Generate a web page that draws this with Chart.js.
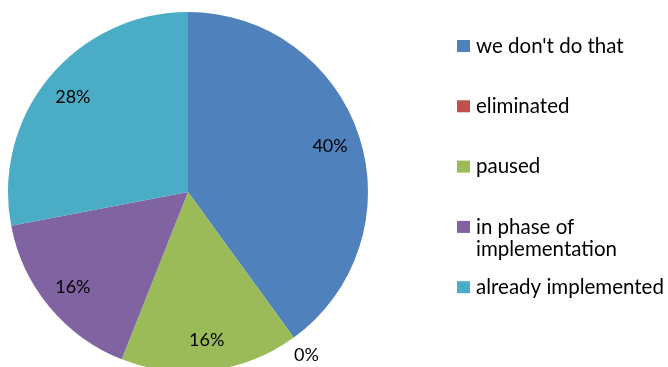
<!DOCTYPE html>
<html>
<head>
<meta charset="utf-8">
<script src="https://cdn.jsdelivr.net/npm/chart.js@4.4.0/dist/chart.umd.min.js"></script>
<style>
  html, body { margin: 0; padding: 0; background: #fff; overflow: hidden; }
  #wrap { width: 668px; height: 384px; position: relative; }
</style>
</head>
<body>
<div id="wrap"><canvas id="pie"></canvas></div>
<script>
// data
const categories = ["we don't do that", 'eliminated', 'paused', 'in phase of implementation', 'already implemented'];
const shares = [40, 0, 16, 16, 28];
const sliceColors = ['#4F81BD', '#C0504D', '#9BBB59', '#8064A2', '#4BACC6'];

const FONT = 'Lato, "Open Sans", sans-serif';

// percent labels on the slices (0% goes outside)
const sliceLabels = {
  id: 'sliceLabels',
  afterDatasetsDraw(chart) {
    const ctx = chart.ctx;
    const meta = chart.getDatasetMeta(0);
    ctx.save();
    ctx.font = '18px ' + FONT;
    ctx.fillStyle = '#000';
    ctx.textAlign = 'center';
    ctx.textBaseline = 'middle';
    meta.data.forEach((arc, i) => {
      const mid = (arc.startAngle + arc.endAngle) / 2;
      const r = shares[i] === 0 ? arc.outerRadius * 1.12 : arc.outerRadius * 0.83;
      ctx.fillText(shares[i] + '%', arc.x + Math.cos(mid) * r, arc.y + Math.sin(mid) * r);
    });
    ctx.restore();
  }
};

// legend on the right, Excel style
const sideLegend = {
  id: 'sideLegend',
  afterDraw(chart) {
    const ctx = chart.ctx;
    ctx.save();
    ctx.font = '20.5px ' + FONT;
    ctx.textBaseline = 'middle';
    const boxX = 457, textX = 476, maxW = 192;
    chart.data.labels.forEach((lab, i) => {
      const y = 46 + i * 60.3;
      ctx.fillStyle = sliceColors[i];
      ctx.fillRect(boxX, y - 6, 13, 12);
      // simple word wrap
      const words = lab.split(' ');
      const lines = [];
      let cur = '';
      words.forEach(w => {
        const test = cur ? cur + ' ' + w : w;
        if (ctx.measureText(test).width > maxW && cur) { lines.push(cur); cur = w; }
        else cur = test;
      });
      lines.push(cur);
      ctx.fillStyle = '#000';
      lines.forEach((ln, k) => ctx.fillText(ln, textX, y + k * 22));
    });
    ctx.restore();
  }
};

new Chart(document.getElementById('pie'), {
  type: 'pie',
  data: {
    labels: categories,
    datasets: [{
      data: shares,
      backgroundColor: sliceColors,
      borderWidth: 0
    }]
  },
  options: {
    responsive: true,
    maintainAspectRatio: false,
    animation: false,
    layout: { padding: { left: 8, right: 300, top: 12, bottom: 12 } },
    plugins: { legend: { display: false }, tooltip: { enabled: false } }
  },
  plugins: [sliceLabels, sideLegend]
});
</script>
</body>
</html>
